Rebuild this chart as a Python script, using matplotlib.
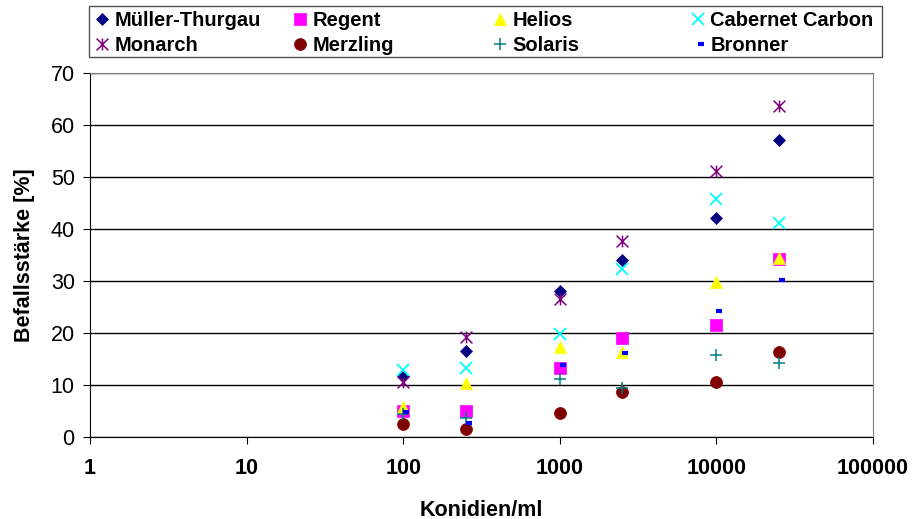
import matplotlib.pyplot as plt
from matplotlib.patches import Rectangle
from matplotlib.path import Path
from matplotlib.ticker import FixedLocator, NullLocator

plt.rcParams["font.family"] = ["Liberation Sans", "DejaVu Sans"]

konidien = [100, 250, 1000, 2500, 10000, 25000]

sorten = ["Müller-Thurgau", "Regent", "Helios", "Cabernet Carbon",
          "Monarch", "Merzling", "Solaris", "Bronner"]

mueller_thurgau = [11.7, 16.5, 28.0, 34.0, 42.1, 57.1]
regent = [5.0, 5.0, 13.2, 19.0, 21.5, 34.3]
helios = [5.8, 10.3, 17.3, 16.3, 29.8, 34.5]
cabernet_carbon = [12.8, 13.3, 19.8, 32.3, 45.8, 41.2]
monarch = [10.5, 19.2, 26.6, 37.7, 51.2, 63.7]
merzling = [2.5, 1.5, 4.6, 8.6, 10.6, 16.4]
solaris = [4.5, 3.6, 11.1, 9.4, 15.8, 14.3]
bronner = [4.8, 2.7, 13.8, 16.2, 24.2, 30.2]

# Excel-style star: an x with a vertical stroke through it
star = Path([(-1, -1), (1, 1), (-1, 1), (1, -1), (0, -1), (0, 1)],
            [Path.MOVETO, Path.LINETO, Path.MOVETO, Path.LINETO, Path.MOVETO, Path.LINETO])
# short dash, drawn a little right of the point
dash = Path([(0.0, 0.0), (1.0, 0.0)], [Path.MOVETO, Path.LINETO])

styles = [
    (mueller_thurgau, dict(marker="D", color="#000080", ms=6.3)),
    (regent, dict(marker="s", color="#FF00FF", ms=8.2)),
    (helios, dict(marker="^", color="#FFFF00", ms=8.8)),
    (cabernet_carbon, dict(marker="x", color="#00FFFF", ms=8.0, mew=1.3)),
    (monarch, dict(marker=star, color="#800080", ms=8.5, mew=1.1)),
    (merzling, dict(marker="o", color="#800000", ms=8.6)),
    (solaris, dict(marker="+", color="#008080", ms=9.0, mew=1.1)),
    (bronner, dict(marker=dash, color="#0000FF", ms=8.5, mew=3.0)),
]

W, H = 913, 519
fig = plt.figure(figsize=(W / 100, H / 100), dpi=100)
ax = fig.add_axes([0.0986, 0.158, 0.8576, 0.701])

handles = []
for name, (werte, st) in zip(sorten, styles):
    (h,) = ax.plot(konidien, werte, linestyle="none", label=name,
                   markeredgecolor=st["color"], markerfacecolor=st["color"],
                   marker=st["marker"], markersize=st["ms"],
                   markeredgewidth=st.get("mew", 0.5))
    handles.append(h)

ax.set_xscale("log")
ax.set_xlim(1, 100000)
ax.set_ylim(0, 70)
ax.xaxis.set_major_locator(FixedLocator([1, 10, 100, 1000, 10000, 100000]))
ax.xaxis.set_minor_locator(NullLocator())
ax.set_xticklabels(["1", "10", "100", "1000", "10000", "100000"],
                   fontweight="bold", fontsize=15.5)
ax.set_yticks(range(0, 71, 10))
ax.tick_params(axis="y", labelsize=15.5, length=5, direction="out", pad=6)
ax.tick_params(axis="x", length=5, direction="out", pad=10)

ax.grid(axis="y", color="black", linewidth=1)
ax.set_axisbelow(True)
ax.spines["left"].set_color("black")
ax.spines["bottom"].set_color("black")
ax.spines["right"].set_color("#808080")
ax.spines["top"].set_color("#808080")

ax.set_xlabel("Konidien/ml", fontweight="bold", fontsize=15.5, labelpad=15)
ax.set_ylabel("Befallsstärke [%]", fontweight="bold", fontsize=15.5, labelpad=11)

# legend: four columns filled row by row, inside one shared frame
fig.add_artist(Rectangle((89 / W, 1 - 57 / H), (882 - 89) / W, 51 / H,
                         transform=fig.transFigure, fill=False,
                         edgecolor="#505050", linewidth=1))
col_x = [96, 294, 494, 692]
for c, x in enumerate(col_x):
    leg = fig.legend(handles=[handles[c], handles[c + 4]],
                     loc="upper left", bbox_to_anchor=(x / W, 1 - 11 / H),
                     frameon=False, prop={"weight": "bold", "size": 14.5},
                     handlelength=0.6, handletextpad=0.3, borderpad=0,
                     labelspacing=0.3, borderaxespad=0)

fig.savefig("out.png", dpi=100)
